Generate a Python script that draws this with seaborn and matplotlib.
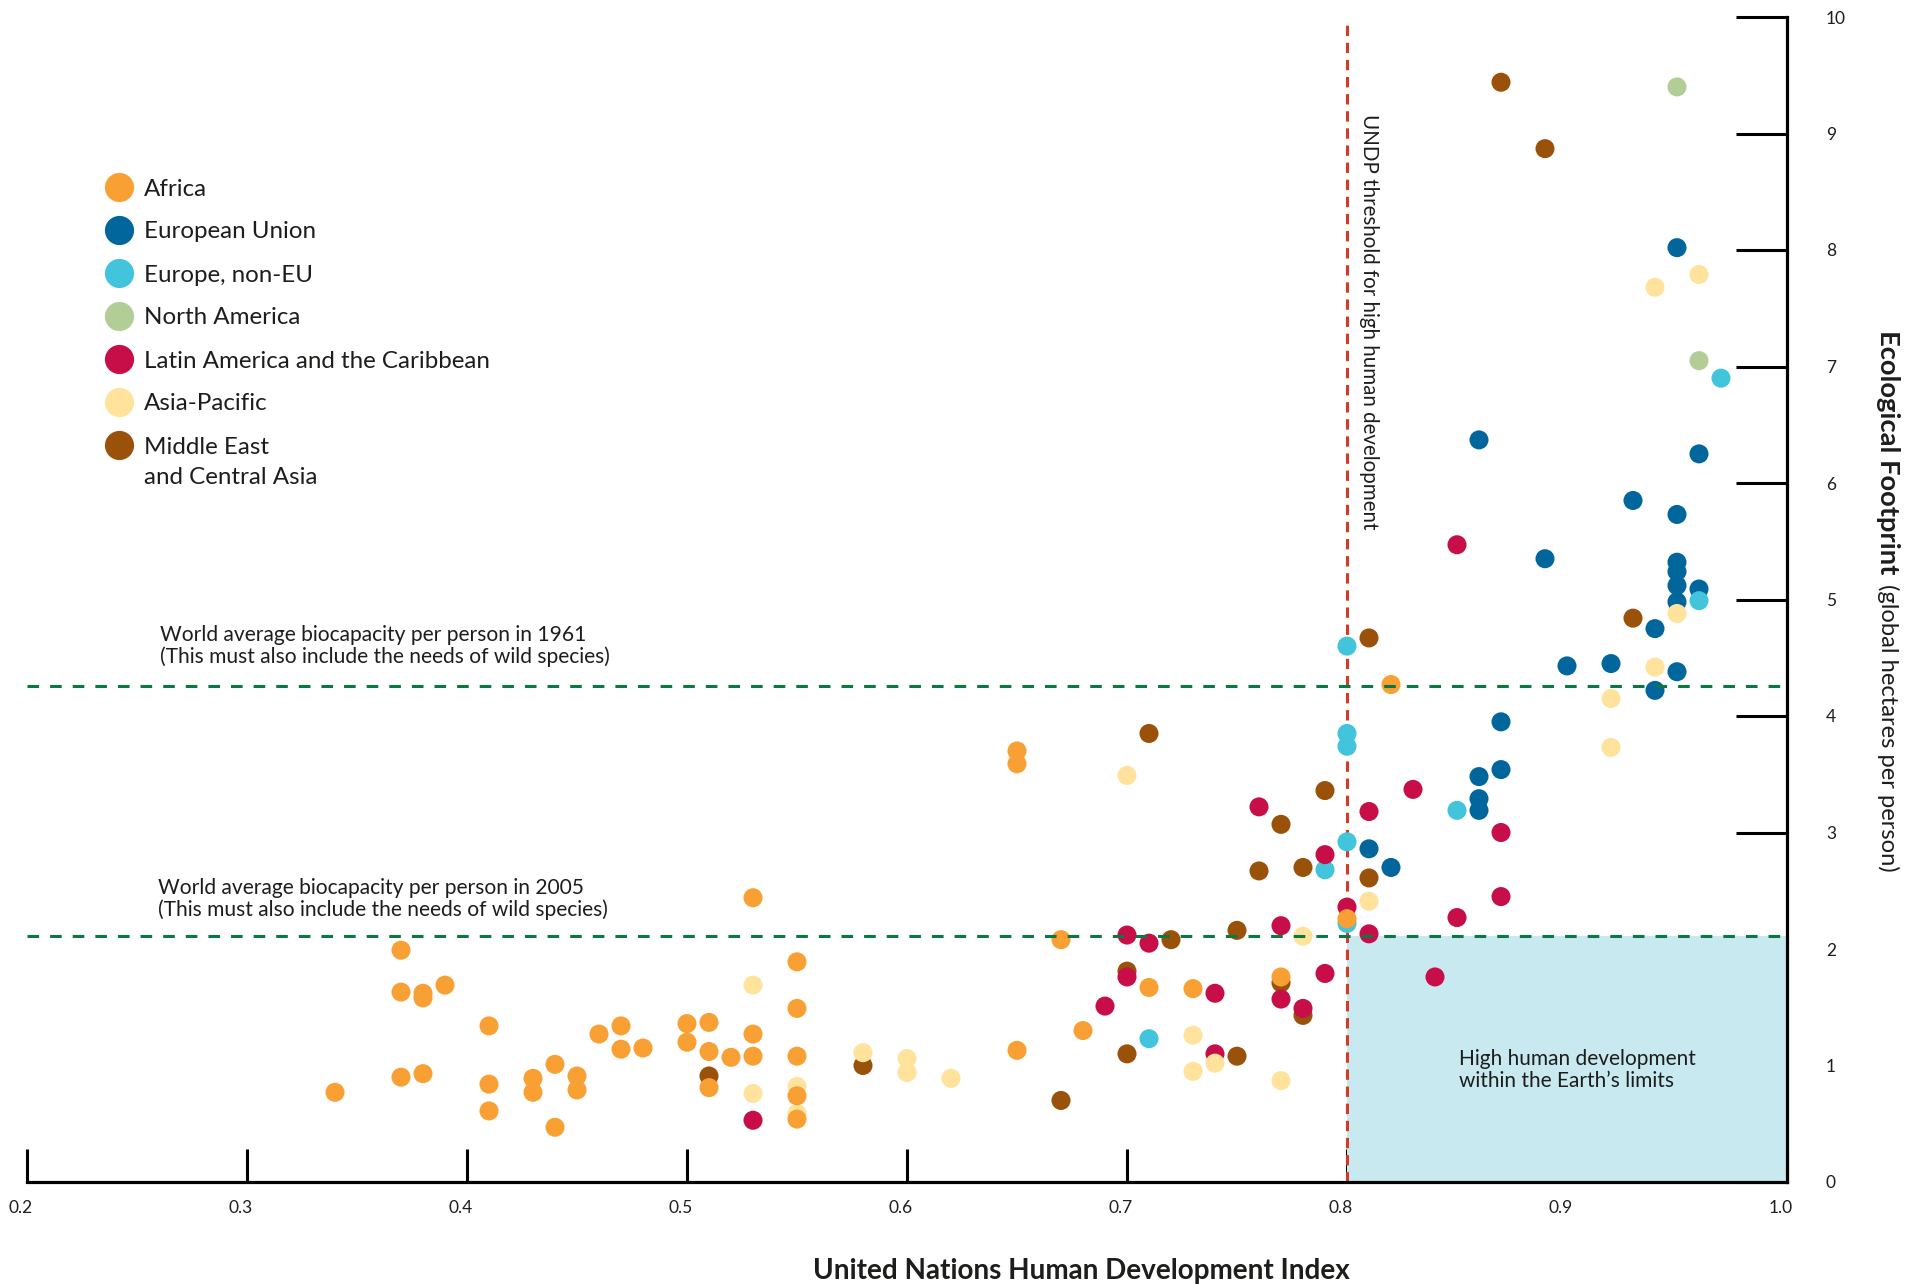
import matplotlib
matplotlib.use("Agg")
import matplotlib.pyplot as plt
import matplotlib.transforms as mtransforms
from matplotlib.lines import Line2D
import seaborn as sns
import pandas as pd

# ---------------- data ----------------
regions = ["Africa", "European Union", "Europe, non-EU", "North America",
           "Latin America and the Caribbean", "Asia-Pacific",
           "Middle East and Central Asia"]
legend_labels = ["Africa", "European Union", "Europe, non-EU", "North America",
                 "Latin America and the Caribbean", "Asia-Pacific", "Middle East"]
legend_extra = "and Central Asia"
colors = ["#F9A034", "#00669C", "#42C4DC", "#B3CD96", "#C70E48", "#FFE29C", "#9A510A"]

africa_hdi = [0.34, 0.37, 0.37, 0.37, 0.38, 0.38, 0.38, 0.39, 0.41, 0.41, 0.41, 0.43, 0.43,
              0.44, 0.44, 0.45, 0.45, 0.46, 0.47, 0.47, 0.48, 0.50, 0.50, 0.51, 0.51, 0.51,
              0.52, 0.53, 0.53, 0.53, 0.55, 0.55, 0.55, 0.55, 0.55, 0.65, 0.65, 0.65, 0.67,
              0.68, 0.71, 0.73, 0.77, 0.80, 0.82]
africa_ef = [0.77, 1.99, 1.63, 0.90, 1.62, 1.58, 0.93, 1.69, 1.34, 0.84, 0.61, 0.89, 0.77,
             1.01, 0.47, 0.91, 0.79, 1.27, 1.34, 1.14, 1.15, 1.36, 1.20, 1.37, 1.12, 0.81,
             1.07, 2.44, 1.27, 1.08, 1.89, 1.49, 1.08, 0.74, 0.54, 3.70, 3.59, 1.13, 2.08,
             1.30, 1.67, 1.66, 1.76, 2.26, 4.27]

eu_hdi = [0.95, 0.86, 0.96, 0.93, 0.95, 0.89, 0.95, 0.95, 0.95, 0.96, 0.95, 0.94, 0.90,
          0.92, 0.95, 0.94, 0.87, 0.87, 0.86, 0.86, 0.86, 0.81, 0.82]
eu_ef = [8.02, 6.37, 6.25, 5.85, 5.73, 5.35, 5.32, 5.24, 5.12, 5.09, 4.98, 4.75, 4.43,
         4.45, 4.38, 4.22, 3.95, 3.54, 3.48, 3.29, 3.19, 2.86, 2.70]

europe_non_eu_hdi = [0.97, 0.96, 0.80, 0.80, 0.80, 0.85, 0.80, 0.79, 0.80, 0.71]
europe_non_eu_ef = [6.90, 4.99, 4.60, 3.85, 3.74, 3.19, 2.92, 2.68, 2.22, 1.23]

north_america_hdi = [0.95, 0.96]
north_america_ef = [9.40, 7.05]

latin_america_hdi = [0.85, 0.83, 0.76, 0.81, 0.87, 0.79, 0.87, 0.80, 0.85, 0.77, 0.81,
                     0.70, 0.71, 0.79, 0.84, 0.70, 0.74, 0.77, 0.69, 0.78, 0.74, 0.53]
latin_america_ef = [5.47, 3.37, 3.22, 3.18, 3.00, 2.81, 2.45, 2.36, 2.27, 2.20, 2.13,
                    2.12, 2.05, 1.79, 1.76, 1.76, 1.62, 1.57, 1.51, 1.49, 1.10, 0.53]

asia_pacific_hdi = [0.96, 0.94, 0.95, 0.94, 0.92, 0.92, 0.70, 0.81, 0.78, 0.53, 0.73,
                    0.58, 0.60, 0.74, 0.73, 0.60, 0.62, 0.77, 0.55, 0.53, 0.55]
asia_pacific_ef = [7.79, 7.68, 4.88, 4.42, 4.15, 3.73, 3.49, 2.41, 2.11, 1.69, 1.26,
                   1.11, 1.06, 1.02, 0.95, 0.94, 0.89, 0.87, 0.82, 0.76, 0.59]

middle_east_hdi = [0.87, 0.89, 0.93, 0.81, 0.71, 0.79, 0.77, 0.76, 0.78, 0.81, 0.75,
                   0.72, 0.70, 0.77, 0.78, 0.70, 0.75, 0.58, 0.51, 0.67]
middle_east_ef = [9.44, 8.87, 4.84, 4.67, 3.85, 3.36, 3.07, 2.67, 2.70, 2.61, 2.16,
                  2.08, 1.81, 1.71, 1.43, 1.10, 1.08, 1.00, 0.91, 0.70]

x_ticks = [0.2, 0.3, 0.4, 0.5, 0.6, 0.7, 0.8, 0.9, 1.0]
x_tick_labels = ["0.2", "0.3", "0.4", "0.5", "0.6", "0.7", "0.8", "0.9", "1.0"]
y_ticks = [0, 1, 2, 3, 4, 5, 6, 7, 8, 9, 10]
y_tick_labels = ["0", "1", "2", "3", "4", "5", "6", "7", "8", "9", "10"]

biocapacity_1961 = 4.26
biocapacity_2005 = 2.11
undp_threshold = 0.8

# ---------------- table ----------------
series = {
    "European Union": (eu_hdi, eu_ef),
    "North America": (north_america_hdi, north_america_ef),
    "Europe, non-EU": (europe_non_eu_hdi, europe_non_eu_ef),
    "Middle East and Central Asia": (middle_east_hdi, middle_east_ef),
    "Latin America and the Caribbean": (latin_america_hdi, latin_america_ef),
    "Asia-Pacific": (asia_pacific_hdi, asia_pacific_ef),
    "Africa": (africa_hdi, africa_ef),
}
df = pd.concat([pd.DataFrame({"hdi": h, "ef": e, "region": r})
                for r, (h, e) in series.items()], ignore_index=True)
palette = dict(zip(regions, colors))

# ---------------- figure ----------------
sns.set_theme(style="white")
plt.rcParams["font.family"] = ["Lato", "DejaVu Sans"]
TXT = "#1d1d1b"

W, H = 1916, 1284
fig = plt.figure(figsize=(W / 100, H / 100), dpi=100)
ax = fig.add_axes([27 / W, 1 - 1182 / H, 1760 / W, 1165 / H])
renderer = fig.canvas.get_renderer()


def fit(t, target, dim="w"):
    for _ in range(3):
        bb = t.get_window_extent(renderer)
        cur = bb.width if dim == "w" else bb.height
        t.set_fontsize(t.get_fontsize() * target / cur)


# shaded "within limits" region
ax.fill_between([undp_threshold, 1.0], 0, biocapacity_2005, color="#C8E9F0", lw=0, zorder=1)
# UNDP threshold
ax.axvline(undp_threshold, ymin=0, ymax=0.997, color="#D23B2A", lw=2.2,
           dashes=(3.4, 2.2), zorder=2)

sns.scatterplot(data=df, x="hdi", y="ef", hue="region", palette=palette, s=188,
                linewidth=0, legend=False, ax=ax, zorder=3)

# biocapacity lines
for yv in (biocapacity_1961, biocapacity_2005):
    ax.axhline(yv, color="#0A7842", lw=2.2, dashes=(3.8, 3.6), zorder=4)

ax.set_xlim(0.2, 1.0)
ax.set_ylim(0, 10)
ax.set_xlabel("")
ax.set_ylabel("")
for s in ("top", "left"):
    ax.spines[s].set_visible(False)
for s in ("bottom", "right"):
    ax.spines[s].set_visible(True)
    ax.spines[s].set_color("black")
    ax.spines[s].set_linewidth(2.3)
    ax.spines[s].set_zorder(6)

ax.set_xticks(x_ticks, x_tick_labels)
ax.set_yticks(y_ticks, y_tick_labels)
ax.yaxis.tick_right()
ax.tick_params(axis="x", bottom=True, direction="in", length=24, width=2.2, pad=13,
               labelsize=12.5, colors="black", labelcolor=TXT)
ax.tick_params(axis="y", right=True, left=False, direction="in", length=37, width=2.2,
               pad=28, labelsize=12.5, colors="black", labelcolor=TXT)
shift = mtransforms.ScaledTranslation(-6 / 100, 0, fig.dpi_scale_trans)
for lab in ax.get_xticklabels():
    lab.set_transform(lab.get_transform() + shift)

# annotations
t1 = ax.text(0.2605, 4.60,
             "World average biocapacity per person in 1961\n(This must also include the needs of wild species)",
             ha="left", va="center", color=TXT, fontsize=14, linespacing=1.1)
fit(t1, 450)
t2 = ax.text(0.2595, 2.43,
             "World average biocapacity per person in 2005\n(This must also include the needs of wild species)",
             ha="left", va="center", color=TXT, fontsize=14, linespacing=1.1)
fit(t2, 450)
t3 = ax.text(0.81, 9.17, "UNDP threshold for high human development", rotation=-90,
             ha="center", va="top", color=TXT, fontsize=14)
fit(t3, 418, "h")
t4 = ax.text(0.851, 0.96, "High human development\nwithin the Earth\u2019s limits",
             ha="left", va="center", color=TXT, fontsize=14, linespacing=1.1)
fit(t4, 237)

# axis titles
xl = fig.text(1081 / W, 1 - 1271 / H, "United Nations Human Development Index",
              ha="center", va="center", weight="bold", color=TXT, fontsize=16)
fit(xl, 537)
yl1 = fig.text(1888 / W, 1 - 330 / H, "Ecological Footprint", rotation=-90,
               ha="center", va="top", weight="bold", color=TXT, fontsize=16)
fit(yl1, 245, "h")
yl2 = fig.text(1888 / W, 1 - 584 / H, "(global hectares per person)", rotation=-90,
               ha="center", va="top", color=TXT, fontsize=16)
fit(yl2, 290, "h")

# legend
probe = fig.text(0, 0, "Latin America and the Caribbean", fontsize=16)
fit(probe, 347)
leg_fs = probe.get_fontsize()
th = probe.get_window_extent(renderer).height
probe.remove()
em = leg_fs * 100 / 72
handles = [Line2D([], [], marker="o", ls="", markersize=21, markerfacecolor=c,
                  markeredgewidth=0) for c in colors]
leg = ax.legend(handles, legend_labels, loc="upper left",
                bbox_to_anchor=((118.5 - em / 2) / W, 1 - (189 - th / 2) / H),
                bbox_transform=fig.transFigure, frameon=False, borderaxespad=0,
                borderpad=0, handlelength=1.0, handleheight=0.7,
                handletextpad=(144 - (118.5 + em / 2)) / em,
                labelspacing=(43 - th) / em, fontsize=leg_fs, labelcolor=TXT)
fig.text(144 / W, 1 - 478 / H, legend_extra, ha="left", va="center",
         fontsize=leg_fs, color=TXT)

fig.savefig("out.png", dpi=100)
